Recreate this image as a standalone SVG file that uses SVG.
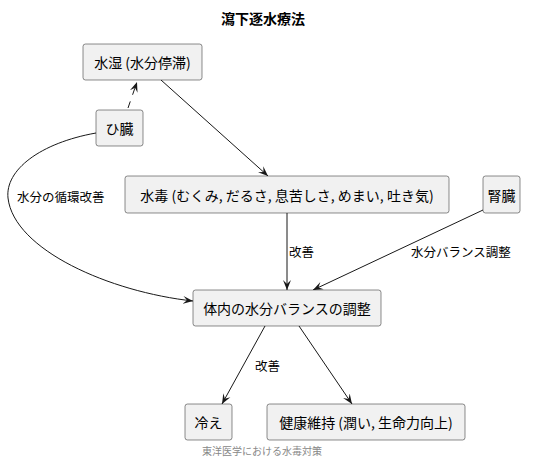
<svg xmlns="http://www.w3.org/2000/svg" width="536" height="463" viewBox="0 0 536 463">
<style>
.node rect{fill:#F1F1F1;stroke:#181818;stroke-width:0.5}
.nt{font-family:"Noto Sans CJK JP","Noto Sans CJK SC",sans-serif;font-size:14px;fill:#000;text-anchor:middle;dominant-baseline:central}
.lbl{font-family:"Noto Sans CJK JP","Noto Sans CJK SC",sans-serif;font-size:12.5px;fill:#000;dominant-baseline:central}
.edge{fill:none;stroke:#181818;stroke-width:1}
</style>
<defs>
<marker id="ah" viewBox="0 0 10 10" refX="10" refY="5" markerWidth="10" markerHeight="10" markerUnits="userSpaceOnUse" orient="auto">
<path d="M0,1 L10,5 L0,9 L4,5 Z" fill="#181818"/>
</marker>
</defs>
<rect width="536" height="463" fill="#FFFFFF"/>
<text x="263" y="18" text-anchor="middle" dominant-baseline="central" style="font-family:'Noto Sans CJK JP',sans-serif;font-size:14px;font-weight:bold">瀉下逐水療法</text>
<g id="connectors">
<path class="edge" d="M128,108 L137,82" stroke-dasharray="7,7" marker-end="url(#ah)"/>
<path class="edge" d="M161,80 L268,176" marker-end="url(#ah)"/>
<path class="edge" d="M96,133 C40,143 5,170 8,198 C14,250 110,292 193,301" marker-end="url(#ah)"/>
<path class="edge" d="M287,213 L287,290" marker-end="url(#ah)"/>
<path class="edge" d="M483,210 L313,290" marker-end="url(#ah)"/>
<path class="edge" d="M265,326 L222,404" marker-end="url(#ah)"/>
<path class="edge" d="M299,326 L352,404" marker-end="url(#ah)"/>
<text class="lbl" x="17" y="196">水分の循環改善</text>
<text class="lbl" x="289" y="251">改善</text>
<text class="lbl" x="411" y="251">水分バランス調整</text>
<text class="lbl" x="255" y="365">改善</text>
</g>
<g id="n_suishitsu" class="node"><rect x="83" y="44" width="119" height="36" rx="2.5"/><text class="nt" x="142.5" y="62">水湿 (水分停滞)</text></g>
<g id="n_hizo" class="node"><rect x="96" y="110" width="47" height="36" rx="2.5"/><text class="nt" x="119.5" y="128">ひ臓</text></g>
<g id="n_suidoku" class="node"><rect x="125" y="176" width="324" height="37" rx="2.5"/><text class="nt" x="287" y="194.5">水毒 (むくみ, だるさ, 息苦しさ, めまい, 吐き気)</text></g>
<g id="n_jinzo" class="node"><rect x="483" y="176" width="37" height="37" rx="2.5"/><text class="nt" x="501.5" y="194.5">腎臓</text></g>
<g id="n_balance" class="node"><rect x="193" y="290" width="188" height="36" rx="2.5"/><text class="nt" x="287" y="308">体内の水分バランスの調整</text></g>
<g id="n_hie" class="node"><rect x="185" y="404" width="47" height="36" rx="2.5"/><text class="nt" x="208.5" y="422">冷え</text></g>
<g id="n_kenko" class="node"><rect x="267" y="404" width="198" height="36" rx="2.5"/><text class="nt" x="366" y="422">健康維持 (潤い, 生命力向上)</text></g>
<text x="262" y="450" text-anchor="middle" dominant-baseline="central" style="font-family:'Noto Sans CJK JP',sans-serif;font-size:10px;fill:#888888">東洋医学における水毒対策</text>
</svg>
